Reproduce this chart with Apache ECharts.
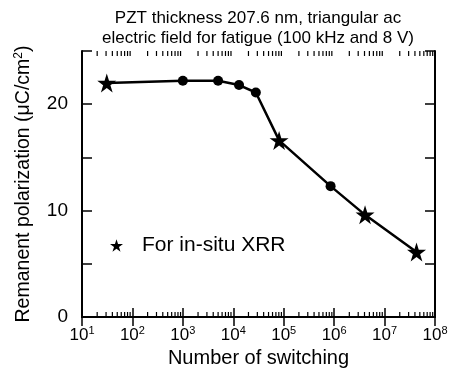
<!DOCTYPE html>
<html lang="en">
<head>
    <meta charset="UTF-8">
    <title>PZT fatigue</title>
    <script src="https://cdn.jsdelivr.net/npm/echarts@6/dist/echarts.min.js"></script>
    <style>
        html, body { margin: 0; padding: 0; background: #fff; }
        #main { width: 451px; height: 383px; }
    </style>
</head>
<body>
    <div id="main"></div>
    <script>
        // 数据：开关次数 / 剩余极化
        var switches = [31, 1000, 5000, 13000, 28000, 81000, 850000, 4100000, 43000000];
        var polarization = [22.0, 22.2, 22.2, 21.8, 21.1, 16.6, 12.3, 9.6, 6.1];
        var forXRR = [true, false, false, false, false, true, false, true, true];
        var yTicks = [0, 10, 20];

        var FONT = 'Liberation Sans, Arial, sans-serif';
        var STAR = 'path://M50 0 L61.23 34.55 L97.55 34.55 L68.17 55.9 L79.39 90.45 L50 69.1 L20.61 90.45 L31.83 55.9 L2.45 34.55 L38.77 34.55 Z';

        var lineData = [], starData = [];
        switches.forEach(function (s, i) {
            // 星号点不画圆点
            lineData.push({ value: [s, polarization[i]], symbol: forXRR[i] ? 'none' : 'circle' });
            if (forXRR[i]) starData.push([s, polarization[i]]);
        });

        // 对数轴的小刻度 2..9
        var minorVals = [];
        for (var e = 1; e < 8; e++) {
            for (var k = 2; k <= 9; k++) minorVals.push([k * Math.pow(10, e), 0]);
        }

        var myChart = echarts.init(document.getElementById('main'));

        var option = {
            backgroundColor: '#fff',
            animation: false,
            textStyle: { fontFamily: FONT, color: '#000' },
            title: {
                text: 'PZT thickness 207.6 nm, triangular ac\nelectric field for fatigue (100 kHz and 8 V)',
                left: 258,
                top: 8,
                padding: 0,
                textAlign: 'center',
                textStyle: { fontFamily: FONT, fontSize: 17, fontWeight: 'normal', color: '#000', lineHeight: 20 }
            },
            legend: {
                data: ['For in-situ XRR'],
                left: 110,
                top: 235,
                padding: 0,
                itemWidth: 13,
                itemHeight: 13,
                icon: STAR,
                itemStyle: { color: '#000', opacity: 1 },
                textStyle: { fontFamily: FONT, fontSize: 21, color: '#000', padding: [0, 0, 0, 14] }
            },
            grid: { left: 82, right: 16, top: 51, bottom: 66 },
            xAxis: [{
                type: 'log',
                min: 10,
                max: 1e8,
                name: 'Number of switching',
                nameLocation: 'middle',
                nameGap: 31,
                nameTextStyle: { fontFamily: FONT, fontSize: 20, color: '#000' },
                axisLine: { lineStyle: { color: '#000', width: 2 } },
                axisTick: { inside: true, length: 9, lineStyle: { color: '#000', width: 1.5 } },
                splitLine: { show: false },
                axisLabel: {
                    margin: 8,
                    formatter: function (v) {
                        return '{b|10}{s|' + Math.round(Math.log10(v)) + '}';
                    },
                    rich: {
                        b: { fontFamily: FONT, fontSize: 17, color: '#000', lineHeight: 20 },
                        s: { fontFamily: FONT, fontSize: 11, color: '#000', lineHeight: 10, verticalAlign: 'top' }
                    }
                }
            }, {
                type: 'log',
                position: 'top',
                min: 10,
                max: 1e8,
                axisLine: { lineStyle: { color: '#000', width: 2 } },
                axisTick: { inside: true, length: 9, lineStyle: { color: '#000', width: 1.5 } },
                axisLabel: { show: false },
                splitLine: { show: false }
            }],
            yAxis: [{
                type: 'value',
                min: 0,
                max: 25,
                interval: 5,
                name: '{n|Remanent polarization (μC/cm}{s|2}{n|)}',
                nameLocation: 'middle',
                nameGap: 47,
                nameTextStyle: {
                    fontFamily: FONT, fontSize: 19.5, color: '#000',
                    rich: {
                        n: { fontFamily: FONT, fontSize: 19.5, color: '#000', lineHeight: 22 },
                        s: { fontFamily: FONT, fontSize: 12, color: '#000', lineHeight: 12, verticalAlign: 'top' }
                    }
                },
                axisLine: { show: true, lineStyle: { color: '#000', width: 2 } },
                axisTick: { show: true, inside: true, length: 10, lineStyle: { color: '#000', width: 1.5 } },
                splitLine: { show: false },
                axisLabel: {
                    margin: 14,
                    fontFamily: FONT,
                    fontSize: 19,
                    color: '#000',
                    formatter: function (v) { return yTicks.indexOf(v) >= 0 ? String(v) : ''; }
                }
            }, {
                type: 'value',
                position: 'right',
                min: 0,
                max: 25,
                interval: 5,
                axisLine: { show: true, lineStyle: { color: '#000', width: 2 } },
                axisTick: { show: true, inside: true, length: 10, lineStyle: { color: '#000', width: 1.5 } },
                axisLabel: { show: false },
                splitLine: { show: false }
            }],
            series: [{
                type: 'custom',
                silent: true,
                xAxisIndex: 0,
                yAxisIndex: 0,
                data: minorVals,
                renderItem: function (params, api) {
                    var cs = params.coordSys;
                    var x = api.coord([api.value(0), 0])[0];
                    var yb = cs.y + cs.height, yt = cs.y;
                    var st = { stroke: '#000', lineWidth: 1.2 };
                    return {
                        type: 'group',
                        children: [
                            { type: 'line', shape: { x1: x, y1: yb, x2: x, y2: yb - 5 }, style: st },
                            { type: 'line', shape: { x1: x, y1: yt, x2: x, y2: yt + 5 }, style: st }
                        ]
                    };
                }
            }, {
                name: 'fatigue',
                type: 'line',
                data: lineData,
                symbolSize: 10,
                lineStyle: { color: '#000', width: 2.5 },
                itemStyle: { color: '#000' }
            }, {
                name: 'For in-situ XRR',
                type: 'scatter',
                data: starData,
                symbol: STAR,
                symbolSize: 19,
                itemStyle: { color: '#000', opacity: 1 },
                z: 5
            }]
        };

        myChart.setOption(option);
    </script>
</body>
</html>
